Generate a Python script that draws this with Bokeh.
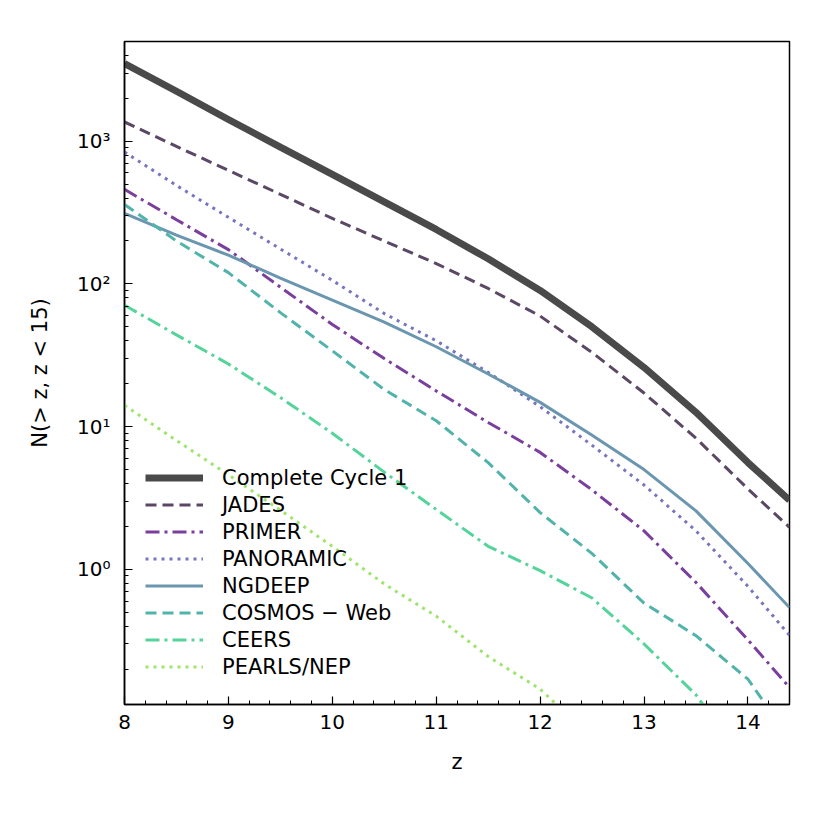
from bokeh.plotting import figure
from bokeh.embed import file_html
from bokeh.resources import INLINE
from bokeh.models import (Legend, LegendItem, SingleIntervalTicker, LogTicker,
                          CustomJSTickFormatter, Range1d)

# ---------------- data ----------------
z_full = [8.0, 8.5, 9.0, 9.5, 10.0, 10.5, 11.0, 11.5, 12.0, 12.5, 13.0, 13.5, 14.0, 14.4]

complete = [3500, 2240, 1420, 910, 586, 376, 241, 150, 90, 50, 26, 12.6, 5.6, 3.05]
jades = [1365, 920, 625, 425, 288, 200, 139, 93, 59.6, 33.1, 17.2, 8.3, 3.66, 1.97]
primer = [460, 282, 174, 95, 52, 30, 17.8, 10.7, 6.6, 3.6, 1.86, 0.81, 0.32, 0.149]
panoramic = [840, 490, 293, 176, 106, 62, 40, 24, 13.8, 7.4, 3.9, 1.86, 0.76, 0.345]
ngdeep = [312, 220, 159, 110, 77, 54, 36.3, 23.4, 14.8, 8.7, 5.0, 2.57, 1.1, 0.54]

z_cosmos = [8.0, 8.5, 9.0, 9.5, 10.0, 10.5, 11.0, 11.5, 12.0, 12.5, 13.0, 13.5, 14.0, 14.3]
cosmos = [361, 200, 120, 63, 34, 18.2, 11.0, 5.6, 2.5, 1.29, 0.58, 0.343, 0.17, 0.083]

z_ceers = [8.0, 8.5, 9.0, 9.5, 10.0, 10.5, 11.0, 11.5, 12.0, 12.5, 13.0, 13.5, 13.7]
ceers = [71, 44, 27.5, 16, 9.0, 4.8, 2.63, 1.45, 0.98, 0.63, 0.30, 0.132, 0.083]

z_pearls = [8.0, 8.5, 9.0, 9.5, 10.0, 10.5, 11.0, 11.5, 12.0, 12.3]
pearls = [14.1, 8.0, 4.6, 2.6, 1.45, 0.79, 0.47, 0.245, 0.145, 0.09]

names = ["Complete Cycle 1", "JADES", "PRIMER", "PANORAMIC", "NGDEEP",
         "COSMOS − Web", "CEERS", "PEARLS/NEP"]

# ---------------- figure ----------------
p = figure(width=814, height=814, frame_width=665, frame_height=663,
           y_axis_type="log", output_backend="svg", toolbar_location=None,
           x_range=Range1d(8, 14.4), y_range=Range1d(0.113, 5000),
           min_border_left=124, min_border_right=25, min_border_top=41,
           min_border_bottom=110)
p.background_fill_color = "white"
p.border_fill_color = "white"
p.grid.visible = False
p.outline_line_color = "black"
p.outline_line_width = 1.5
p.outline_line_alpha = 1.0

font = "DejaVu Sans"

series = [
    (z_full, complete, "#4a4a4a", 7, "solid"),
    (z_full, jades, "#5b4864", 3, "11 6"),
    (z_full, primer, "#7a3f9c", 3, "14 5 3 5"),
    (z_full, panoramic, "#7774c0", 3, "3 5"),
    (z_full, ngdeep, "#6b96b0", 3, "solid"),
    (z_cosmos, cosmos, "#52b3aa", 3, "11 6"),
    (z_ceers, ceers, "#54d39a", 3, "14 5 3 5"),
    (z_pearls, pearls, "#9fe46c", 3, "3 5"),
]

items = []
for (xs, ys, col, w, dash), name in zip(series, names):
    r = p.line(xs, ys, line_color=col, line_width=w, line_dash=dash)
    items.append(LegendItem(label=name, renderers=[r]))

legend = Legend(items=items, location=(21, 24), background_fill_alpha=0,
                border_line_alpha=0, padding=0, margin=0, spacing=0,
                glyph_width=58, glyph_height=27, label_height=27,
                label_standoff=19, label_text_font=font,
                label_text_font_size="21px", label_text_color="black")
p.add_layout(legend)

# axes
for ax in (p.xaxis[0], p.yaxis[0]):
    ax.axis_line_color = "black"
    ax.axis_line_width = 1.5
    ax.major_tick_in = 8
    ax.major_tick_out = 0
    ax.minor_tick_in = 4
    ax.minor_tick_out = 0
    ax.major_tick_line_color = "black"
    ax.minor_tick_line_color = "black"
    ax.major_tick_line_width = 1.2
    ax.minor_tick_line_width = 1
    ax.major_label_text_font = font
    ax.major_label_text_font_size = "20px"
    ax.major_label_text_color = "black"
    ax.axis_label_text_font = font
    ax.axis_label_text_font_size = "21px"
    ax.axis_label_text_font_style = "normal"
    ax.axis_label_text_color = "black"

p.xaxis[0].ticker = SingleIntervalTicker(interval=1, num_minor_ticks=5)
p.xaxis[0].axis_label = "z"
p.xaxis[0].major_label_standoff = 10
p.xaxis[0].axis_label_standoff = 18

p.yaxis[0].ticker = LogTicker(num_minor_ticks=10)
p.yaxis[0].formatter = CustomJSTickFormatter(code="""
const sup = {"-1":"⁻¹","0":"⁰","1":"¹","2":"²","3":"³","4":"⁴"};
const e = Math.round(Math.log10(tick));
return "10" + sup[String(e)];
""")
p.yaxis[0].axis_label = "N(> z, z < 15)"
p.yaxis[0].major_label_standoff = 14
p.yaxis[0].axis_label_standoff = 22

open("out.html", "w").write(file_html(p, INLINE))
